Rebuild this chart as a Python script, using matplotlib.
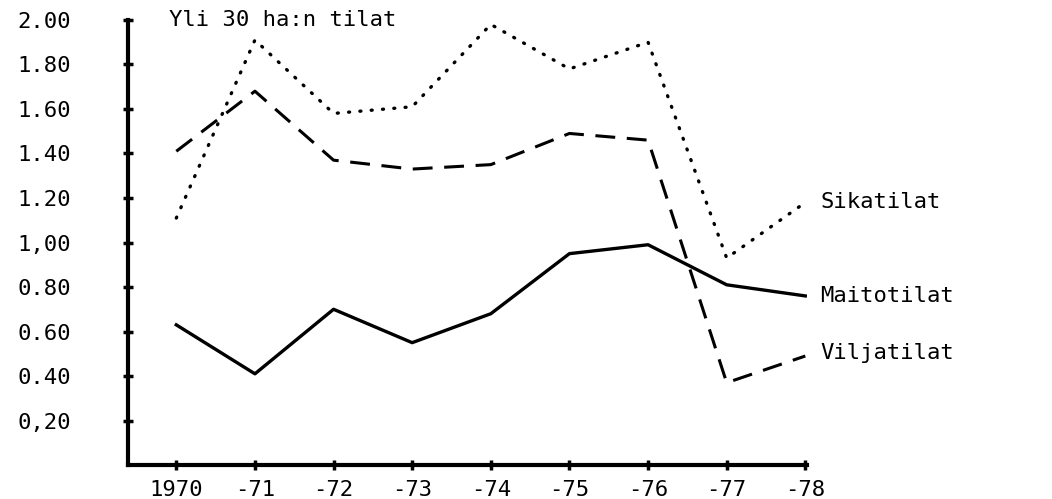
import matplotlib.pyplot as plt

years = ['1970', '-71', '-72', '-73', '-74', '-75', '-76', '-77', '-78']
sikatilat = [1.11, 1.91, 1.58, 1.61, 1.98, 1.78, 1.90, 0.93, 1.18]
viljatilat = [1.41, 1.68, 1.37, 1.33, 1.35, 1.49, 1.46, 0.37, 0.49]
maitotilat = [0.63, 0.41, 0.70, 0.55, 0.68, 0.95, 0.99, 0.81, 0.76]
y_ticks = [0.2, 0.4, 0.6, 0.8, 1.0, 1.2, 1.4, 1.6, 1.8, 2.0]
y_labels = ['0,20', '0.40', '0.60', '0.80', '1,00', '1.20', '1.40', '1.60', '1.80', '2.00']

plt.rcParams['font.family'] = 'DejaVu Sans Mono'

fig = plt.figure(figsize=(10.52, 4.99), dpi=100)
ax = fig.add_axes([0.122, 0.068, 0.645, 0.892])
x = list(range(len(years)))

# Series, styled like the old typewriter plot
ax.plot(x, sikatilat, color='black', linewidth=2.4, linestyle=(0, (0.3, 3.1)),
        dash_capstyle='round')
ax.plot(x, viljatilat, color='black', linewidth=2.2, linestyle=(0, (6.5, 3.8)))
ax.plot(x, maitotilat, color='black', linewidth=2.4)

for name, vals, dy in [('Sikatilat', sikatilat, 0), ('Maitotilat', maitotilat, 0),
                       ('Viljatilat', viljatilat, 2)]:
    ax.annotate(name, xy=(x[-1], vals[-1]), xytext=(11, dy), textcoords='offset points',
                va='center', ha='left', fontsize=16)

ax.text(0.06, 1.0, 'Yli 30 ha:n tilat', transform=ax.transAxes, va='center',
        ha='left', fontsize=16)

ax.set_xlim(-0.61, 8.02)
ax.set_ylim(0, 2.0)
ax.set_xticks(x)
ax.set_xticklabels(years)
ax.set_yticks(y_ticks)
ax.set_yticklabels(y_labels)
ax.tick_params(axis='y', direction='inout', length=7, width=2.5, pad=38, labelsize=16)
ax.tick_params(axis='x', direction='inout', length=7, width=2.5, pad=7, labelsize=16)

for side in ['top', 'right']:
    ax.spines[side].set_visible(False)
for side in ['left', 'bottom']:
    ax.spines[side].set_linewidth(3)

fig.savefig('out.png', dpi=100)
